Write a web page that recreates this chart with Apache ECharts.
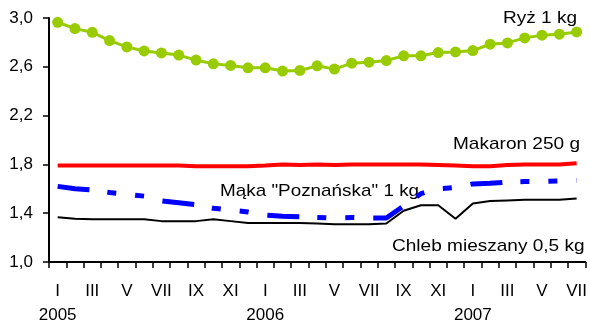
<!DOCTYPE html>
<html><head><meta charset="utf-8">
<script src="https://cdn.jsdelivr.net/npm/echarts@6/dist/echarts.min.js"></script>
<style>html,body{margin:0;padding:0;background:#fff}#c{width:590px;height:327px}</style>
</head><body><div id="c"></div>
<script>
const months = ['I','II','III','IV','V','VI','VII','VIII','IX','X','XI','XII',
  'I','II','III','IV','V','VI','VII','VIII','IX','X','XI','XII',
  'I','II','III','IV','V','VI','VII'];
const years = {0:'2005',12:'2006',24:'2007'};
const yTicks = [1.0,1.4,1.8,2.2,2.6,3.0];
const ryz = [2.965,2.913,2.883,2.815,2.763,2.73,2.714,2.696,2.655,2.624,2.611,2.592,2.592,2.565,2.57,2.608,2.581,2.63,2.638,2.651,2.69,2.69,2.717,2.722,2.733,2.785,2.796,2.837,2.859,2.867,2.886];
const makaron = [1.79,1.79,1.79,1.79,1.79,1.79,1.79,1.79,1.785,1.785,1.785,1.785,1.79,1.80,1.795,1.80,1.795,1.80,1.80,1.80,1.80,1.80,1.795,1.79,1.785,1.785,1.795,1.80,1.80,1.80,1.81];
const maka = [1.62,1.60,1.59,1.57,1.555,1.54,1.50,1.485,1.47,1.44,1.425,1.41,1.385,1.375,1.37,1.365,1.36,1.365,1.36,1.36,1.46,1.56,1.60,1.61,1.64,1.645,1.655,1.66,1.66,1.665,1.67];
const chleb = [1.367,1.355,1.35,1.35,1.35,1.35,1.335,1.335,1.335,1.35,1.335,1.32,1.32,1.32,1.32,1.315,1.31,1.31,1.31,1.315,1.42,1.465,1.465,1.355,1.48,1.50,1.505,1.51,1.51,1.51,1.52];
const seriesNames = ['Ryż 1 kg','Makaron 250 g','Mąka "Poznańska" 1 kg','Chleb mieszany 0,5 kg'];

const font = 'Liberation Sans, Arial, sans-serif';
const chart = echarts.init(document.getElementById('c'));
function label(text, x, y, sx) {
  return {type: 'text', x: x, y: y, scaleX: sx, originX: 0, originY: 0,
    style: {text: text, font: '17px ' + font, fill: '#000', align: 'left', verticalAlign: 'top'}};
}
chart.setOption({
  animation: false,
  grid: {left: 49, right: 3, top: 18, bottom: 64, containLabel: false},
  xAxis: {
    type: 'category', data: months.map((m,i)=>i), boundaryGap: true,
    axisLine: {lineStyle: {color: '#000', width: 2}},
    axisTick: {show: true, interval: 0, length: 6, lineStyle: {color: '#000', width: 1.5}},
    axisLabel: {interval: 1, margin: 17, color: '#000', fontFamily: font, fontSize: 17, lineHeight: 24,
      verticalAlign: 'top',
      formatter: (v) => { const i = +v; return months[i] + '\n' + (years[i] || ' '); }},
    splitLine: {show: false}
  },
  yAxis: {
    type: 'value', min: 1.0, max: 3.0, interval: 0.4,
    axisLine: {show: true, lineStyle: {color: '#000', width: 2}},
    axisTick: {show: true, length: 6, lineStyle: {color: '#000', width: 1.5}},
    axisLabel: {margin: 16, color: '#000', fontFamily: font, fontSize: 17,
      formatter: (v) => { const t = yTicks.find(x => Math.abs(x - v) < 1e-6); return (t !== undefined ? t : v).toFixed(1).replace('.', ','); }},
    splitLine: {show: false}
  },
  series: [
    {name: seriesNames[0], type: 'line', data: ryz, symbol: 'circle', symbolSize: 11,
      itemStyle: {color: '#99cc00'}, lineStyle: {color: '#99cc00', width: 3}},
    {name: seriesNames[1], type: 'line', data: makaron, symbol: 'none',
      lineStyle: {color: '#ff0000', width: 4}},
    {name: seriesNames[3], type: 'line', data: chleb, symbol: 'none',
      lineStyle: {color: '#000000', width: 2}},
    {name: seriesNames[2], type: 'line', data: maka, symbol: 'none',
      lineStyle: {color: '#0000ff', width: 5, type: [32,18,9,19,9,19], cap: 'butt'}}
  ],
  graphic: [
    label(seriesNames[0], 503, 10, 1.12),
    label(seriesNames[1], 453, 136, 1.12),
    label(seriesNames[2], 220, 183, 1.11),
    label(seriesNames[3], 392, 238, 1.12)
  ]
});
</script></body></html>
